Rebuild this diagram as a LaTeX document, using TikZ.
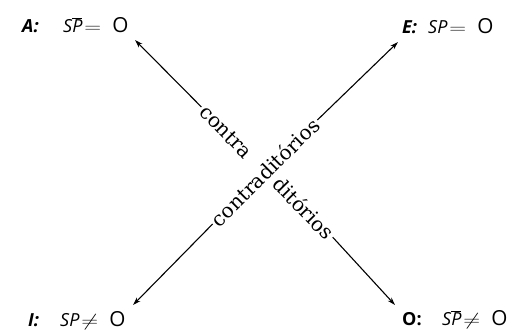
\documentclass[tikz,border=0pt]{standalone}
\usepackage{fontspec}
\setmainfont{DejaVu Serif}
\newfontfamily\labfont{Open Sans}
\usetikzlibrary{arrows.meta}
\newcommand\barP{$\overline{\mbox{\itshape P}}$}
\newcommand\eqsp[1]{\hspace{2pt}\scalebox{1.35}[1]{$#1$}\hspace{11pt}\scalebox{1.15}{\upshape O}}
\begin{document}
\begin{tikzpicture}[x=1pt,y=-1pt,
  arr/.style={-{Stealth[length=8pt,width=5pt]}, line width=1.1pt},
  lab/.style={font=\labfont\fontsize{18}{18}\selectfont\itshape, anchor=base west, inner sep=0pt},
  key/.style={lab, font=\labfont\fontsize{18}{18}\selectfont\bfseries\itshape},
  diag/.style={font=\fontsize{20}{20}\selectfont, inner sep=2pt}]
\useasboundingbox (0,0) rectangle (518,330);
\coordinate (tA) at (135,40);
\coordinate (tO) at (395,305);
\coordinate (tE) at (398,42);
\coordinate (tI) at (133,305);
\node[diag, rotate=-45.5] (contra) at (226,132) {contra};
\node[diag, rotate=-45.5] (ditorios) at (304,208) {ditórios};
\node[diag, rotate=44.8] (contrad) at (265,172) {contraditórios};
\draw[arr] (contra.west) -- (tA);
\draw[arr] (ditorios.east) -- (tO);
\draw[arr] (contrad.east) -- (tE);
\draw[arr] (contrad.west) -- (tI);
\node[key] (A) at (22,32) {A:};
\node[lab] (Af) at (63,32) {S\barP\eqsp{=}};
\node[key] (E) at (402,33) {E:};
\node[lab] (Ef) at (428,33) {SP\eqsp{=}};
\node[key] (I) at (28,326) {I:};
\node[lab] (If) at (60,326) {SP\eqsp{\neq}};
\node[key, font=\labfont\fontsize{18}{18}\selectfont\bfseries] (O) at (402,325) {O:};
\node[lab] (Of) at (442,325) {S\barP\eqsp{\neq}};
\end{tikzpicture}
\end{document}
